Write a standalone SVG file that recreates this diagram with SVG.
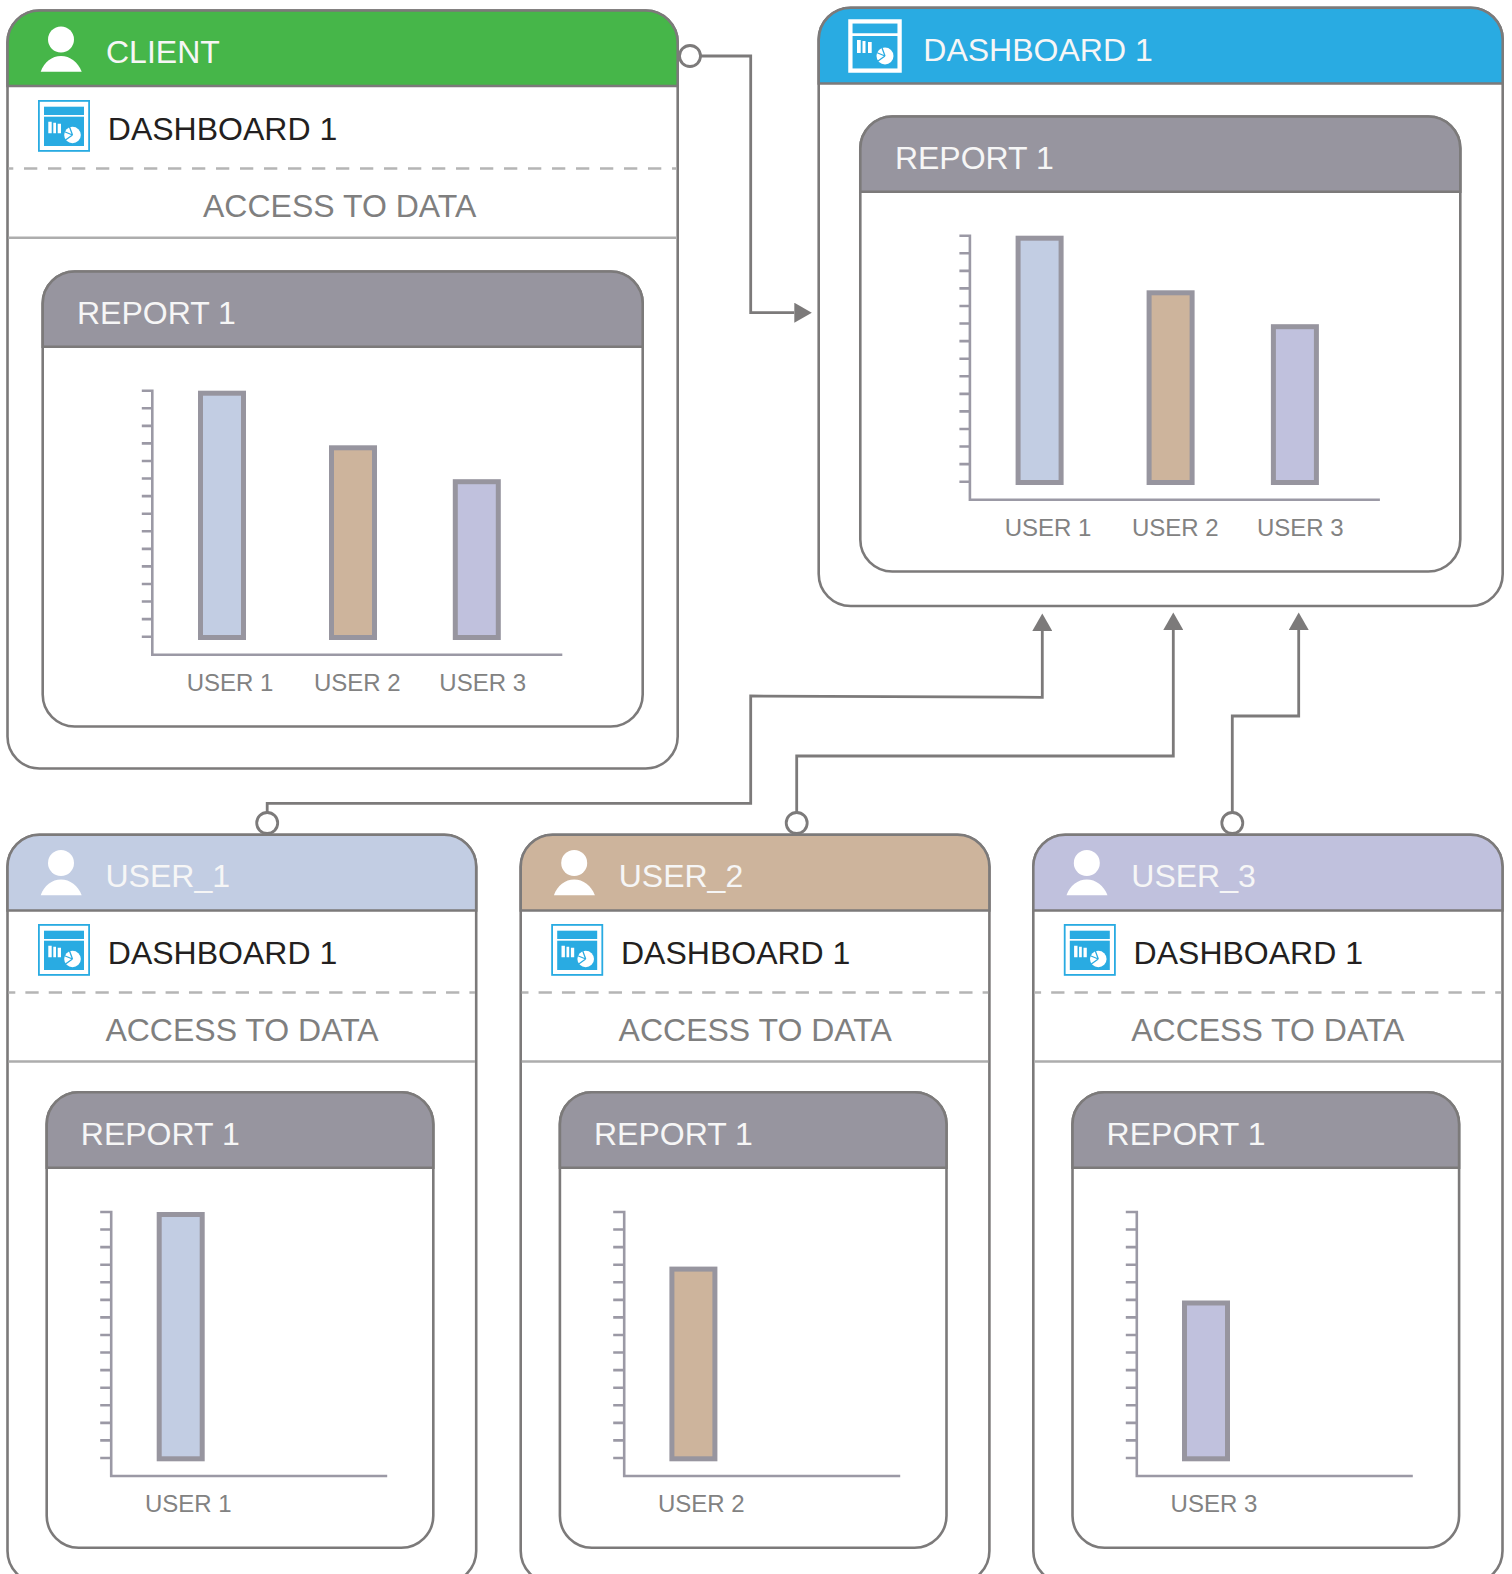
<svg xmlns="http://www.w3.org/2000/svg" width="1512" height="1574" viewBox="0 0 1512 1574">
<style>
text{font-family:"Liberation Sans",Arial,sans-serif}
.t32{font-size:32px}
.head{fill:#f6f6f6}
.dark{fill:#231f20}
.access{fill:#7f7f7f}
.lab{font-size:24px;fill:#828282}
.frame{fill:#fff;stroke:#7c7a7a;stroke-width:2.6}
.hb{stroke:#7c7a7a;stroke-width:2.6}
.dash{stroke:#b5b5b5;stroke-width:2.6;fill:none}
.sep{stroke:#adadad;stroke-width:2.6;fill:none}
.axis{stroke:#9b99a5;stroke-width:2.6;fill:none}
.bar{stroke:#97959f;stroke-width:5}
.conn{fill:none;stroke:#7c7a7a;stroke-width:2.8;stroke-linejoin:miter}
.port{fill:#fff;stroke:#7c7a7a;stroke-width:2.8}
.rpt{fill:#97959f}
</style>
<defs>
<marker id="arrow" markerUnits="userSpaceOnUse" markerWidth="18" markerHeight="20" refX="0" refY="10" orient="auto"><path d="M0 0L17.5 10L0 20Z" fill="#7c7a7a"/></marker>
<g id="person" fill="#fff"><circle cx="53.5" cy="29" r="13"/><path d="M33.2 61.2C36.5 51.5 44.5 45.4 53.5 45.4S70.5 51.5 74.2 61.2Z"/></g>
<g id="dashicon">
<rect x="0.9" y="0.9" width="50.2" height="50" fill="#fff" stroke="#29abe2" stroke-width="1.8"/>
<rect x="6" y="6.7" width="40" height="8.3" fill="#29abe2"/>
<rect x="6" y="16.7" width="40" height="29.3" fill="#29abe2"/>
<path d="M10.3 21.7h3.4v11.6h-3.4zM15.3 22.7h2.7v10.6h-2.7zM19.7 23.7h3.3v9.6h-3.3z" fill="#fff"/>
<circle cx="34.5" cy="35" r="8.3" fill="#fff"/>
<path d="M34.5 35L31 25.5M34.5 35L26 31.5M34.5 35L27.5 40" stroke="#29abe2" stroke-width="1.3" fill="none"/>
</g>
<path id="ticks" class="axis" d="M-10.5 0H0M-10.5 17.57H0M-10.5 35.14H0M-10.5 52.71H0M-10.5 70.28H0M-10.5 87.85H0M-10.5 105.42H0M-10.5 122.99H0M-10.5 140.56H0M-10.5 158.13H0M-10.5 175.7H0M-10.5 193.27H0M-10.5 210.84H0M-10.5 228.41H0M-10.5 246H0M0 -1.2V264H410"/>
<path id="ticks-s" class="axis" d="M-11 0H0M-11 17.57H0M-11 35.14H0M-11 52.71H0M-11 70.28H0M-11 87.85H0M-11 105.42H0M-11 122.99H0M-11 140.56H0M-11 158.13H0M-11 175.7H0M-11 193.27H0M-11 210.84H0M-11 228.41H0M-11 246H0M0 -1.2V264H276"/>
</defs>

<g id="client">
<path class="frame" d="M7.5 42.5A32 32 0 0 1 39.5 10.5H645.7A32 32 0 0 1 677.7 42.5V736.5A32 32 0 0 1 645.7 768.5H39.5A32 32 0 0 1 7.5 736.5Z"/>
<path d="M7.5 86V42.5A32 32 0 0 1 39.5 10.5H645.7A32 32 0 0 1 677.7 42.5V86Z" fill="#46b649" stroke="#7c7a7a" stroke-width="2.6"/>
<use href="#person" x="7.5" y="10.5"/>
<text class="t32 head" x="106" y="63.2">CLIENT</text>
<use href="#dashicon" x="38" y="100"/>
<text class="t32 dark" x="107.8" y="139.5">DASHBOARD 1</text>
<path class="dash" d="M8.5 168.5H676.5" stroke-dasharray="13.3 10.7" stroke-dashoffset="8.5"/>
<text class="t32 access" x="203" y="217">ACCESS TO DATA</text>
<path class="sep" d="M8.5 237.7H676.5"/>
</g>
<g id="client-report">
<path class="frame" d="M42.7 303.5A32 32 0 0 1 74.7 271.5H610.7A32 32 0 0 1 642.7 303.5V694.5A32 32 0 0 1 610.7 726.5H74.7A32 32 0 0 1 42.7 694.5Z"/>
<path class="rpt hb" d="M42.7 346.8V303.5A32 32 0 0 1 74.7 271.5H610.7A32 32 0 0 1 642.7 303.5V346.8Z"/>
<text class="t32 head" x="77" y="323.7">REPORT 1</text>
<g transform="translate(152.3 390.7)">
<use href="#ticks"/>
<rect class="bar" x="48.2" y="2.5" width="43" height="244.3" fill="#c2cde3"/>
<rect class="bar" x="179.2" y="57.1" width="43" height="189.7" fill="#cdb49c"/>
<rect class="bar" x="303" y="91" width="43" height="155.8" fill="#c0c1dd"/>
<text class="lab" x="34.4" y="300.3">USER 1</text>
<text class="lab" x="161.6" y="300.3">USER 2</text>
<text class="lab" x="287" y="300.3">USER 3</text>
</g>
</g>

<g id="dashboard">
<path class="frame" d="M818.7 39.5A32 32 0 0 1 850.7 7.7H1470.7A32 32 0 0 1 1502.7 39.5V574A32 32 0 0 1 1470.7 606H850.7A32 32 0 0 1 818.7 574Z"/>
<path d="M818.7 83.5V39.5A32 32 0 0 1 850.7 7.7H1470.7A32 32 0 0 1 1502.7 39.5V83.5Z" fill="#29abe2" stroke="#7c7a7a" stroke-width="2.6"/>
<rect x="850.4" y="21.4" width="49.2" height="49.2" fill="none" stroke="#fff" stroke-width="4.3"/>
<path d="M851 34.7H899" stroke="#fff" stroke-width="2.7"/>
<path d="M857 40h3.7v13h-3.7zM862.5 41h3v12h-3zM868 42h3.7v11h-3.7z" fill="#fff"/>
<circle cx="885" cy="56" r="8.5" fill="#fff"/>
<path d="M885 56L881.5 46.5M885 56L876.5 52.5M885 56L878 61" stroke="#29abe2" stroke-width="1.3" fill="none"/>
<text class="t32 head" x="923.3" y="60.7">DASHBOARD 1</text>
</g>
<g id="dashboard-report" transform="translate(817.6 -155)">
<path class="frame" d="M42.7 303.5A32 32 0 0 1 74.7 271.5H610.7A32 32 0 0 1 642.7 303.5V694.5A32 32 0 0 1 610.7 726.5H74.7A32 32 0 0 1 42.7 694.5Z"/>
<path class="rpt hb" d="M42.7 346.8V303.5A32 32 0 0 1 74.7 271.5H610.7A32 32 0 0 1 642.7 303.5V346.8Z"/>
<text class="t32 head" x="77.3" y="323.7">REPORT 1</text>
<g transform="translate(152.3 390.7)">
<use href="#ticks"/>
<rect class="bar" x="48.2" y="2.5" width="43" height="244.3" fill="#c2cde3"/>
<rect class="bar" x="179.2" y="57.1" width="43" height="189.7" fill="#cdb49c"/>
<rect class="bar" x="303.5" y="91" width="43" height="155.8" fill="#c0c1dd"/>
<text class="lab" x="34.8" y="300.3">USER 1</text>
<text class="lab" x="162" y="300.3">USER 2</text>
<text class="lab" x="287" y="300.3">USER 3</text>
</g>
</g>

<g id="user1">
<path class="frame" d="M7.5 866.7A32 32 0 0 1 39.5 834.7H444.2A32 32 0 0 1 476.2 866.7V1551A32 32 0 0 1 444.2 1583H39.5A32 32 0 0 1 7.5 1551Z"/>
<path d="M7.5 910.5V866.7A32 32 0 0 1 39.5 834.7H444.2A32 32 0 0 1 476.2 866.7V910.5Z" fill="#c2cde3" stroke="#7c7a7a" stroke-width="2.6"/>
<use href="#person" x="7.5" y="834"/>
<text class="t32 head" x="105.5" y="887.3">USER_1</text>
<use href="#dashicon" x="38" y="924"/>
<text class="t32 dark" x="107.8" y="963.5">DASHBOARD 1</text>
<path class="dash" d="M8.5 992.5H475" stroke-dasharray="13.3 10.07" stroke-dashoffset="6.5"/>
<text class="t32 access" x="105.4" y="1040.6">ACCESS TO DATA</text>
<path class="sep" d="M8.5 1061.5H475"/>
<path class="frame" d="M46.7 1124.3A32 32 0 0 1 78.7 1092.3H401.3A32 32 0 0 1 433.3 1124.3V1515.7A32 32 0 0 1 401.3 1547.7H78.7A32 32 0 0 1 46.7 1515.7Z"/>
<path class="rpt hb" d="M46.7 1167.7V1124.3A32 32 0 0 1 78.7 1092.3H401.3A32 32 0 0 1 433.3 1124.3V1167.7Z"/>
<text class="t32 head" x="80.8" y="1145">REPORT 1</text>
<g transform="translate(111.2 1212)">
<use href="#ticks-s"/>
<rect class="bar" x="48" y="2.5" width="43" height="244.3" fill="#c2cde3"/>
<text class="lab" x="33.8" y="299.7">USER 1</text>
</g>
</g>

<g id="user2" transform="translate(513.2 0)">
<path class="frame" d="M7.5 866.7A32 32 0 0 1 39.5 834.7H444.2A32 32 0 0 1 476.2 866.7V1551A32 32 0 0 1 444.2 1583H39.5A32 32 0 0 1 7.5 1551Z"/>
<path d="M7.5 910.5V866.7A32 32 0 0 1 39.5 834.7H444.2A32 32 0 0 1 476.2 866.7V910.5Z" fill="#cdb49c" stroke="#7c7a7a" stroke-width="2.6"/>
<use href="#person" x="7.5" y="834"/>
<text class="t32 head" x="105.5" y="887.3">USER_2</text>
<use href="#dashicon" x="38" y="924"/>
<text class="t32 dark" x="107.8" y="963.5">DASHBOARD 1</text>
<path class="dash" d="M8.5 992.5H475" stroke-dasharray="13.3 10.07" stroke-dashoffset="6.5"/>
<text class="t32 access" x="105.4" y="1040.6">ACCESS TO DATA</text>
<path class="sep" d="M8.5 1061.5H475"/>
<path class="frame" d="M46.7 1124.3A32 32 0 0 1 78.7 1092.3H401.3A32 32 0 0 1 433.3 1124.3V1515.7A32 32 0 0 1 401.3 1547.7H78.7A32 32 0 0 1 46.7 1515.7Z"/>
<path class="rpt hb" d="M46.7 1167.7V1124.3A32 32 0 0 1 78.7 1092.3H401.3A32 32 0 0 1 433.3 1124.3V1167.7Z"/>
<text class="t32 head" x="80.8" y="1145">REPORT 1</text>
<g transform="translate(111 1212)">
<use href="#ticks-s"/>
<rect class="bar" x="47.7" y="57.1" width="43" height="189.7" fill="#cdb49c"/>
<text class="lab" x="33.8" y="299.7">USER 2</text>
</g>
</g>

<g id="user3" transform="translate(1025.8 0)">
<path class="frame" d="M7.5 866.7A32 32 0 0 1 39.5 834.7H444.2A32 32 0 0 1 476.7 866.7V1551A32 32 0 0 1 444.2 1583H39.5A32 32 0 0 1 7.5 1551Z"/>
<path d="M7.5 910.5V866.7A32 32 0 0 1 39.5 834.7H444.2A32 32 0 0 1 476.7 866.7V910.5Z" fill="#c0c1dd" stroke="#7c7a7a" stroke-width="2.6"/>
<use href="#person" x="7.5" y="834"/>
<text class="t32 head" x="105.5" y="887.3">USER_3</text>
<use href="#dashicon" x="38" y="924"/>
<text class="t32 dark" x="107.8" y="963.5">DASHBOARD 1</text>
<path class="dash" d="M8.5 992.5H475.5" stroke-dasharray="13.3 10.07" stroke-dashoffset="6.5"/>
<text class="t32 access" x="105.4" y="1040.6">ACCESS TO DATA</text>
<path class="sep" d="M8.5 1061.5H475.5"/>
<path class="frame" d="M46.7 1124.3A32 32 0 0 1 78.7 1092.3H401.3A32 32 0 0 1 433.3 1124.3V1515.7A32 32 0 0 1 401.3 1547.7H78.7A32 32 0 0 1 46.7 1515.7Z"/>
<path class="rpt hb" d="M46.7 1167.7V1124.3A32 32 0 0 1 78.7 1092.3H401.3A32 32 0 0 1 433.3 1124.3V1167.7Z"/>
<text class="t32 head" x="80.8" y="1145">REPORT 1</text>
<g transform="translate(111 1212)">
<use href="#ticks-s"/>
<rect class="bar" x="47.7" y="91" width="43" height="155.8" fill="#c0c1dd"/>
<text class="lab" x="33.8" y="299.7">USER 3</text>
</g>
</g>

<g id="connectors">
<path class="conn" marker-end="url(#arrow)" d="M700.5 56H750.7V312.7H794.3"/>
<circle class="port" cx="690" cy="56" r="10.5"/>
<path class="conn" marker-end="url(#arrow)" d="M267.2 812V803.3H750.7V696L1042.3 697.3V631"/>
<circle class="port" cx="267.2" cy="823" r="10.5"/>
<path class="conn" marker-end="url(#arrow)" d="M796.7 812.5V756H1173.3V630"/>
<circle class="port" cx="796.7" cy="823" r="10.5"/>
<path class="conn" marker-end="url(#arrow)" d="M1232.3 812.5V716H1298.7V630"/>
<circle class="port" cx="1232.3" cy="823" r="10.5"/>
</g>
</svg>
